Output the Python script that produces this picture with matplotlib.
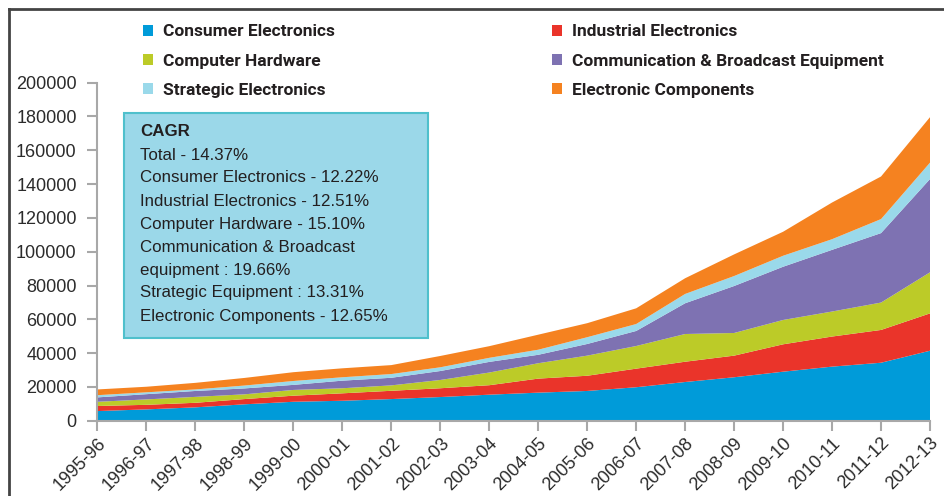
import matplotlib.pyplot as plt
from matplotlib.patches import Patch, Rectangle
import numpy as np

# Production by segment (Rs crore), fiscal years
years = ["1995-96", "1996-97", "1997-98", "1998-99", "1999-00", "2000-01",
         "2001-02", "2002-03", "2003-04", "2004-05", "2005-06", "2006-07",
         "2007-08", "2008-09", "2009-10", "2010-11", "2011-12", "2012-13"]

consumer = [5700, 6700, 7900, 9700, 11200, 11800, 12800, 14000, 15400,
            16600, 17600, 19800, 22900, 25700, 29000, 32000, 34300, 41400]
industrial = [3000, 2700, 2700, 3100, 3600, 4400, 4900, 5200, 5600,
              8300, 9000, 11000, 12000, 12800, 16200, 17800, 19400, 22100]
computer = [2500, 3200, 3500, 2800, 3400, 3000, 3200, 4900, 7500,
            9100, 11900, 13400, 16400, 13400, 14400, 14800, 16200, 24300]
communication = [2600, 3100, 3500, 3500, 3000, 4500, 4500, 5300, 6300,
                 5000, 6900, 8900, 18200, 27800, 31500, 36500, 41100, 55200]
strategic = [1300, 1100, 900, 1700, 2300, 2000, 2200, 2200, 2400,
             3000, 4000, 4100, 5500, 5900, 6500, 6300, 8300, 9700]
components = [3400, 3300, 3900, 4500, 5200, 5300, 5300, 6700, 6900,
              8900, 8300, 9300, 9300, 12800, 14200, 21700, 25200, 26900]

series_names = ["Consumer Electronics", "Industrial Electronics", "Computer Hardware",
                "Communication & Broadcast Equipment", "Strategic Electronics",
                "Electronic Components"]
colors = ["#009bd9", "#ea342a", "#bccb28", "#7e72b2", "#9ad9ea", "#f58220"]

cagr_lines = ["Total - 14.37%",
              "Consumer Electronics - 12.22%",
              "Industrial Electronics - 12.51%",
              "Computer Hardware - 15.10%",
              "Communication & Broadcast",
              "equipment : 19.66%",
              "Strategic Equipment : 13.31%",
              "Electronic Components - 12.65%"]

W, H = 945, 496
fig = plt.figure(figsize=(W / 100, H / 100), dpi=100)
ax = fig.add_axes([97.5 / W, 1 - 420.7 / H, (930 - 97.5) / W, (420.7 - 82.7) / H])

x = np.arange(len(years))
ax.stackplot(x, consumer, industrial, computer, communication, strategic, components,
             colors=colors, linewidth=0)

ax.set_xlim(0, len(years) - 1)
ax.set_ylim(0, 200000)
ax.set_yticks(np.arange(0, 200001, 20000))
ax.set_xticks(x)
ax.set_xticklabels(years, rotation=45, ha="right", rotation_mode="anchor")

for s in ["top", "right"]:
    ax.spines[s].set_visible(False)
for s in ["left", "bottom"]:
    ax.spines[s].set_color("#a8a8a8")
    ax.spines[s].set_linewidth(1.5)
ax.tick_params(axis="both", colors="#a8a8a8", width=1.5, length=7,
               labelcolor="#2b2b2b", labelsize=13)
for lab in ax.get_xticklabels() + ax.get_yticklabels():
    lab.set_family("Liberation Sans")
ax.tick_params(axis="x", pad=3)
ax.tick_params(axis="y", pad=8)

# legend: two columns above the areas
handles = [Patch(facecolor=c, edgecolor="none") for c in colors]
legend_kw = dict(frameon=False, loc="upper left", borderpad=0, borderaxespad=0,
                 handlelength=0.58, handleheight=0.58, handletextpad=0.57,
                 labelspacing=0.81,
                 prop={"family": "Roboto", "weight": "bold", "size": 12.5})
for col, x0 in [([0, 2, 4], 143), ([1, 3, 5], 552)]:
    leg = fig.legend([handles[i] for i in col], [series_names[i] for i in col],
                     bbox_to_anchor=(x0 / W, 1 - 24.5 / H), **legend_kw)
    for t in leg.get_texts():
        t.set_color("#231f20")

# CAGR box
box = Rectangle((124 / W, 1 - 338 / H), (428 - 124) / W, (338 - 113) / H,
                transform=fig.transFigure, facecolor="#9bd8e9",
                edgecolor="#4fc0cc", linewidth=1.5, zorder=5)
fig.add_artist(box)
fig.text(140 / W, 1 - 132 / H, "CAGR", fontsize=12.2, fontweight="bold",
         family="Liberation Sans", color="#231f20", va="center", zorder=6)
for i, line in enumerate(cagr_lines):
    fig.text(140 / W, 1 - (155 + 23 * i) / H, line, fontsize=12.2,
             family="Liberation Sans", color="#231f20", va="center", zorder=6)

# outer frame
fig.add_artist(plt.Line2D([9 / W, 1], [1 - 9 / H, 1 - 9 / H], transform=fig.transFigure,
                          color="#444444", linewidth=2))
fig.add_artist(plt.Line2D([9 / W, 9 / W], [0, 1 - 9 / H], transform=fig.transFigure,
                          color="#444444", linewidth=2))

fig.savefig("out.png", dpi=100)
